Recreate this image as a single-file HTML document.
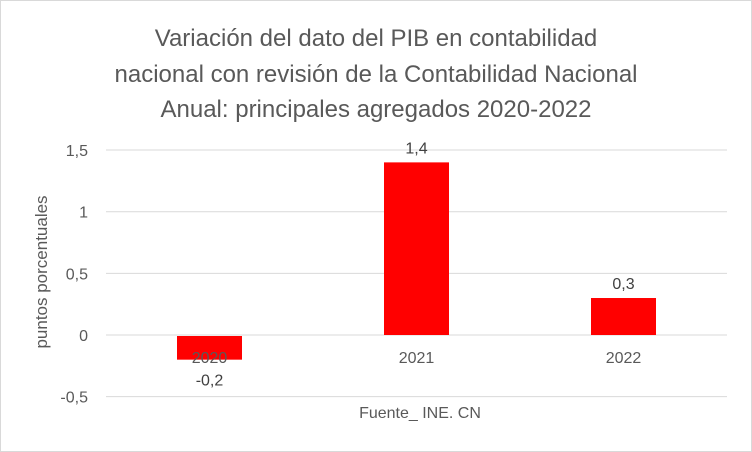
<!DOCTYPE html>
<html><head><meta charset="utf-8"><style>
body{margin:0;background:#fff;}
svg{display:block;font-family:"Liberation Sans",Arial,sans-serif;}
</style></head><body>
<svg id="c" width="752" height="452">
<rect x="0.5" y="0.5" width="751" height="451" fill="#fff" stroke="#d9d9d9"/>
<g fill="#595959" font-size="24" text-anchor="middle">
<text x="376" y="46">Variación del dato del PIB en contabilidad</text>
<text x="376" y="82">nacional con revisión de la Contabilidad Nacional</text>
<text x="376" y="117">Anual: principales agregados 2020-2022</text>
</g>
<text transform="translate(47,272) rotate(-90)" text-anchor="middle" font-size="17" fill="#595959">puntos porcentuales</text>
<text x="420" y="418" text-anchor="middle" font-size="16" fill="#595959">Fuente_ INE. CN</text>
<g id="grid"></g><g id="bars"></g><g id="labels"></g>
</svg>
<script>
const categories=["2020","2021","2022"];
const values=[-0.2,1.4,0.3];
const valueLabels=["-0,2","1,4","0,3"];
const ticks=[1.5,1,0.5,0,-0.5];
const tickLabels=["1,5","1","0,5","0","-0,5"];
const NS="http://www.w3.org/2000/svg";
const x0=106,x1=727,zeroY=335,unit=123.3;
const y=v=>zeroY-v*unit;
const band=(x1-x0)/categories.length;
const cx=i=>x0+band*(i+0.5);
function mk(t,a,p,txt){const e=document.createElementNS(NS,t);for(const k in a)e.setAttribute(k,a[k]);if(txt!=null)e.textContent=txt;p.appendChild(e);return e;}
const g=document.getElementById('grid'),b=document.getElementById('bars'),l=document.getElementById('labels');
ticks.forEach((t,i)=>{
const ln=mk('line',{x1:x0,x2:x1,y1:y(t),y2:y(t),stroke:'#d9d9d9','stroke-width':1},g);


const tx=mk('text',{x:88,y:y(t)+6,'text-anchor':'end','font-size':16,fill:'#595959'},g,tickLabels[i]);


});
const bw=65;
values.forEach((v,i)=>{
const top=Math.min(y(v),y(0)+1),h=Math.abs(y(v)-y(0))-(v<0?1:0);
const r=mk('rect',{x:cx(i)-bw/2,y:top,width:bw,height:h,fill:'#ff0000'},b);


const c=mk('text',{x:cx(i),y:y(0)+28,'text-anchor':'middle','font-size':16,fill:'#595959'},l,categories[i]);


const vy=v>=0?y(v)-9:y(v)+26;
const t=mk('text',{x:cx(i),y:vy,'text-anchor':'middle','font-size':16,fill:'#404040'},l,valueLabels[i]);


});
</script>
</body></html>
